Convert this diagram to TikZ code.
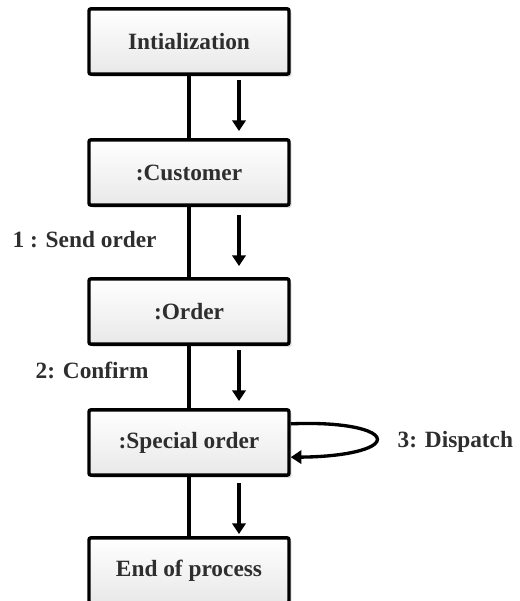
\documentclass[tikz,border=0pt]{standalone}
\usepackage{fontspec}
\setmainfont{Liberation Serif}
\usetikzlibrary{arrows.meta,shadows}
\definecolor{txt}{HTML}{2E2E2E}
\definecolor{boxbot}{HTML}{E8E8E8}
\begin{document}
\begin{tikzpicture}[x=0.75pt,y=-0.75pt,
  objbox/.style={draw=black, line width=2.6pt, rounded corners=1.5pt,
    minimum width=150pt, minimum height=49pt, inner sep=0pt,
    top color=white, bottom color=boxbot,
    drop shadow={shadow xshift=2pt, shadow yshift=-2pt, opacity=0.25, fill=gray},
    font=\fontsize{17.5}{20}\selectfont\bfseries, text=txt},
  lifeline/.style={line width=2.5pt},
  msgarrow/.style={line width=2.5pt, -{Triangle[width=10pt,length=8pt]}},
  msglabel/.style={font=\fontsize{17.5}{20}\selectfont\bfseries, text=txt}]
  \useasboundingbox (0,0) rectangle (519,601);
  \begin{scope}
  \clip (0,0) rectangle (519,601);
  % objects
  \node[objbox] (init) at (189,41.5) {Intialization};
  \node[objbox] (cust) at (189,172.5) {:Customer};
  \node[objbox] (ord)  at (189,311.5) {:Order};
  \node[objbox] (spec) at (189,442.5) {:Special order};
  \node[objbox] (endp) at (189,570.5) {End of process};
  % lifeline segments
  \draw[lifeline] (init.south) -- (cust.north);
  \draw[lifeline] (cust.south) -- (ord.north);
  \draw[lifeline] (ord.south) -- (spec.north);
  \draw[lifeline] (spec.south) -- (endp.north);
  % message arrows
  \coordinate (a1s) at (239,80);  \coordinate (a1e) at (239,131);
  \coordinate (a2s) at (239,215); \coordinate (a2e) at (239,266);
  \coordinate (a3s) at (239,350); \coordinate (a3e) at (239,401);
  \coordinate (a4s) at (239,483); \coordinate (a4e) at (239,534);
  \draw[msgarrow] (a1s) -- (a1e);
  \draw[msgarrow] (a2s) -- (a2e);
  \draw[msgarrow] (a3s) -- (a3e);
  \draw[msgarrow] (a4s) -- (a4e);
  % self message
  \draw[msgarrow] ([yshift=14pt]spec.east) .. controls (355,421) and (392,434) .. (372,446)
     .. controls (355,455) and (320,457) .. ([yshift=-11pt]spec.east);
  % labels
  \node[msglabel, anchor=west] (l1) at (8,240) {1 : Send order};
  \node[msglabel, anchor=west] (l2) at (31,370) {2: Confirm};
  \node[msglabel, anchor=west] (l3) at (393,442) {3: Dispatch};
  \end{scope}
\end{tikzpicture}
\end{document}
